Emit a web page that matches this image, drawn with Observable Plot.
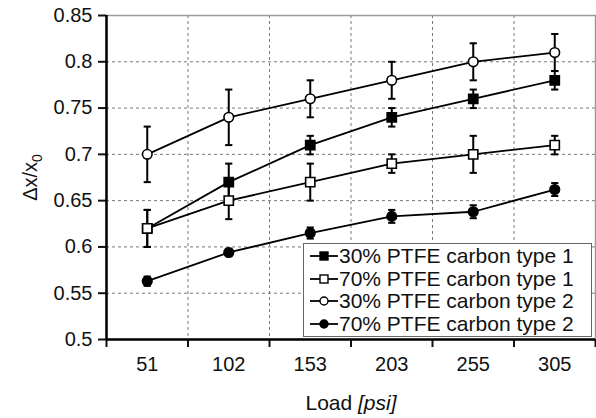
<!DOCTYPE html>
<html>
<head>
<meta charset="utf-8">
<script src="https://cdn.jsdelivr.net/npm/d3@7"></script>
<script src="https://cdn.jsdelivr.net/npm/@observablehq/plot@0.6"></script>
<style>
  html, body { margin: 0; padding: 0; background: white; }
  #wrap { position: relative; width: 596px; height: 418px; font-family: "Liberation Sans", Arial, sans-serif; }
  #legend { position: absolute; left: 303px; top: 243px; width: 287px; height: 91px; border: 1px solid #666; background: white; padding-top: 1px; box-sizing: content-box; }
  .row { display: flex; align-items: center; height: 22.5px; font-size: 21px; line-height: 22.5px; white-space: nowrap; color: #111; }
  .row svg { display: block; margin-left: 6px; margin-right: 1px; }
</style>
</head>
<body>
<div id="wrap"></div>
<script>
// ---- data ----
const loads = ["51", "102", "153", "203", "255", "305"];
const seriesNames = ["30% PTFE carbon type 1", "70% PTFE carbon type 1", "30% PTFE carbon type 2", "70% PTFE carbon type 2"];
const pt30c1 = [0.62, 0.67, 0.71, 0.74, 0.76, 0.78];
const pt30c1Err = [0.02, 0.02, 0.01, 0.01, 0.01, 0.01];
const pt70c1 = [0.62, 0.65, 0.67, 0.69, 0.70, 0.71];
const pt70c1Err = [0.02, 0.02, 0.02, 0.01, 0.02, 0.01];
const pt30c2 = [0.70, 0.74, 0.76, 0.78, 0.80, 0.81];
const pt30c2Err = [0.03, 0.03, 0.02, 0.02, 0.02, 0.02];
const pt70c2 = [0.563, 0.594, 0.615, 0.633, 0.638, 0.662];
const pt70c2Err = [0.005, 0.004, 0.006, 0.007, 0.007, 0.007];
const yTicks = [0.5, 0.55, 0.6, 0.65, 0.7, 0.75, 0.8, 0.85];

const seriesVals = [pt30c1, pt70c1, pt30c2, pt70c2];
const seriesErrs = [pt30c1Err, pt70c1Err, pt30c2Err, pt70c2Err];
const styles = [
  {symbol: "square", fill: "black"},
  {symbol: "square", fill: "white"},
  {symbol: "circle", fill: "white"},
  {symbol: "circle", fill: "black"}
];

const rows = [];
seriesVals.forEach((vals, s) => vals.forEach((v, i) => rows.push({
  series: seriesNames[s], s, i, v, lo: v - seriesErrs[s][i], hi: v + seriesErrs[s][i]
})));

const idx = loads.map((_, i) => i);
const bounds = d3.range(-0.5, loads.length, 1);

const capSymbol = {
  draw(context, size) {
    const r = Math.sqrt(size / Math.PI);
    context.moveTo(-r, 0);
    context.lineTo(r, 0);
  }
};

const grid = {stroke: "#777", strokeOpacity: 1, strokeWidth: 1, strokeDasharray: "3,3"};

const plot = Plot.plot({
  width: 596,
  height: 418,
  marginLeft: 106,
  marginRight: 1,
  marginTop: 15,
  marginBottom: 79,
  style: {fontFamily: "'Liberation Sans', Arial, sans-serif", fontSize: "20px", color: "#111", background: "white", overflow: "visible"},
  x: {type: "linear", domain: [-0.5, loads.length - 0.5]},
  y: {domain: [0.5, 0.85]},
  marks: [
    Plot.gridY(yTicks.slice(1, -1), grid),
    Plot.gridX(bounds.slice(1, -1), grid),
    Plot.frame({stroke: "#999", strokeWidth: 1.5}),
    Plot.ruleX(rows, {x: "i", y1: "lo", y2: "hi", stroke: "black", strokeWidth: 2}),
    Plot.dot(rows, {x: "i", y: "lo", symbol: capSymbol, r: 3.6, stroke: "black", strokeWidth: 2}),
    Plot.dot(rows, {x: "i", y: "hi", symbol: capSymbol, r: 3.6, stroke: "black", strokeWidth: 2}),
    Plot.line(rows, {x: "i", y: "v", z: "series", stroke: "black", strokeWidth: 1.8}),
    ...styles.map((st, s) => Plot.dot(rows.filter(d => d.s === s), {
      x: "i", y: "v", symbol: st.symbol, r: st.symbol === "square" ? 5.2 : 4.8,
      fill: st.fill, stroke: "black", strokeWidth: 1.6
    })),
    Plot.axisY({ticks: yTicks, tickSize: 8, tickPadding: 6, strokeWidth: 2,
      tickFormat: d => d.toFixed(2).replace(/0$/, ""),
      label: "Δx/x0", labelAnchor: "center", labelOffset: 84, labelArrow: false}),
    Plot.axisX({ticks: idx, tickSize: 0, tickPadding: 17, tickFormat: i => loads[i],
      label: "Load [psi]", labelAnchor: "center", labelOffset: 70, labelArrow: false}),
    Plot.axisX({ticks: bounds, tickSize: 8, strokeWidth: 2, tickFormat: () => "", label: null}),
    Plot.ruleY([0.5], {stroke: "black", strokeWidth: 2.5}),
    Plot.ruleX([-0.5], {stroke: "black", strokeWidth: 2.5})
  ]
});

// rich text for axis labels
plot.querySelectorAll("text").forEach(t => {
  if (t.textContent === "Δx/x0") {
    const sel = d3.select(t);
    sel.text("");
    sel.append("tspan").text("Δx/x");
    sel.append("tspan").attr("font-size", "14px").attr("dy", "0.35em").text("0");
  } else if (t.textContent === "Load [psi]") {
    const sel = d3.select(t);
    sel.text("").attr("font-size", "21px");
    sel.append("tspan").text("Load ");
    sel.append("tspan").attr("font-style", "italic").text("[psi]");
  }
});

const wrap = document.getElementById("wrap");
wrap.appendChild(plot);

// legend
const legend = document.createElement("div");
legend.id = "legend";
seriesNames.forEach((name, s) => {
  const row = document.createElement("div");
  row.className = "row";
  const sw = d3.create("svg").attr("width", 28).attr("height", 14);
  sw.append("line").attr("x1", 0).attr("x2", 28).attr("y1", 7).attr("y2", 7).attr("stroke", "black").attr("stroke-width", 1.8);
  if (styles[s].symbol === "square") {
    sw.append("rect").attr("x", 10).attr("y", 3).attr("width", 8).attr("height", 8)
      .attr("fill", styles[s].fill).attr("stroke", "black").attr("stroke-width", 1.4);
  } else {
    sw.append("circle").attr("cx", 14).attr("cy", 7).attr("r", 4)
      .attr("fill", styles[s].fill).attr("stroke", "black").attr("stroke-width", 1.4);
  }
  row.appendChild(sw.node());
  const span = document.createElement("span");
  span.textContent = name;
  row.appendChild(span);
  legend.appendChild(row);
});
wrap.appendChild(legend);
</script>
</body>
</html>
